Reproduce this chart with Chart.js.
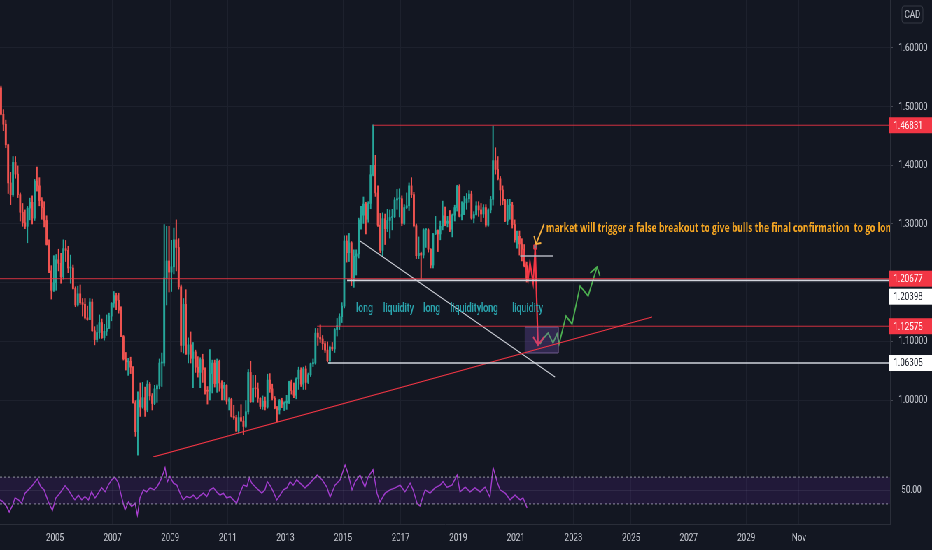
<!DOCTYPE html>
<html>
<head>
<meta charset="utf-8">
<script src="https://cdn.jsdelivr.net/npm/chart.js@4.4.1/dist/chart.umd.min.js"></script>
<style>
html,body{margin:0;padding:0;background:#131722;overflow:hidden;width:932px;height:550px}
#wrap{position:absolute;left:0;top:0;width:1332px;height:550px;transform:scaleX(0.6997);transform-origin:0 0}
#main{position:absolute;left:0;top:0}
#rsi{position:absolute;left:0;top:457px}
</style>
</head>
<body>
<div id="wrap">
<canvas id="main" width="1332" height="457"></canvas>
<canvas id="rsi" width="1332" height="93"></canvas>
</div>
<script>
// USDCAD monthly candles, Feb 2003 .. May 2021
const firstYear = 2003
const firstMonth = 2

const open = [
1.532,1.487,1.470,1.435,1.370,1.350,1.405,1.385,1.350,1.320,1.302,
1.296,1.327,1.337,1.310,1.373,1.365,1.340,1.328,1.306,1.265,1.220,1.187,
1.200,1.239,1.233,1.210,1.258,1.255,1.225,1.225,1.190,1.162,1.181,1.166,
1.163,1.140,1.137,1.167,1.118,1.103,1.115,1.132,1.106,1.117,1.122,1.143,
1.165,1.178,1.170,1.153,1.108,1.070,1.065,1.066,1.056,0.995,0.946,1.000,
0.988,1.004,0.983,1.027,1.007,0.994,1.019,1.024,1.063,1.063,1.208,1.237,
1.218,1.227,1.273,1.260,1.193,1.093,1.163,1.078,1.094,1.071,1.082,1.056,
1.047,1.069,1.052,1.016,1.015,1.045,1.063,1.028,1.066,1.029,1.020,1.025,
0.998,1.001,0.972,0.970,0.947,0.970,0.964,0.955,0.980,1.047,0.997,1.020,
1.019,1.003,0.989,0.998,0.988,1.034,1.019,1.003,0.986,0.983,0.999,0.993,
0.995,0.998,1.031,1.016,1.008,1.036,1.051,1.027,1.053,1.030,1.043,1.062,
1.063,1.114,1.107,1.104,1.096,1.085,1.067,1.090,1.087,1.120,1.127,1.142,
1.160,1.271,1.251,1.268,1.207,1.245,1.249,1.307,1.315,1.334,1.308,1.335,
1.384,1.400,1.353,1.298,1.255,1.309,1.292,1.306,1.311,1.312,1.341,1.343,
1.343,1.301,1.328,1.331,1.365,1.350,1.297,1.246,1.250,1.247,1.290,1.290,
1.257,1.230,1.283,1.289,1.283,1.296,1.314,1.301,1.305,1.291,1.315,1.328,
1.364,1.313,1.316,1.336,1.343,1.351,1.310,1.316,1.331,1.324,1.317,1.328,
1.298,1.324,1.342,1.408,1.393,1.377,1.358,1.340,1.305,1.332,1.332,1.299,
1.273,1.279,1.266,1.257,1.229
]
const high = [
1.535,1.495,1.477,1.436,1.388,1.415,1.415,1.399,1.353,1.335,1.324,
1.330,1.344,1.348,1.376,1.397,1.379,1.345,1.338,1.314,1.273,1.229,1.246,
1.248,1.257,1.250,1.273,1.272,1.262,1.247,1.230,1.193,1.194,1.196,1.173,
1.173,1.160,1.173,1.172,1.125,1.128,1.145,1.138,1.129,1.145,1.148,1.166,
1.185,1.182,1.182,1.159,1.110,1.081,1.071,1.073,1.057,0.999,1.014,1.029,
1.030,1.022,1.033,1.030,1.011,1.025,1.026,1.070,1.080,1.299,1.296,1.296,
1.272,1.293,1.307,1.275,1.196,1.173,1.188,1.106,1.116,1.098,1.085,1.074,
1.072,1.078,1.055,1.023,1.086,1.068,1.068,1.070,1.068,1.033,1.030,1.026,
1.004,1.003,0.991,0.974,0.980,0.992,0.972,0.999,1.052,1.066,1.042,1.042,
1.029,1.004,1.007,1.005,1.044,1.045,1.027,1.006,0.989,1.001,1.003,0.997,
1.008,1.032,1.034,1.029,1.038,1.056,1.055,1.056,1.058,1.046,1.063,1.070,
1.122,1.122,1.128,1.110,1.100,1.099,1.092,1.098,1.122,1.139,1.147,1.166,
1.280,1.280,1.284,1.270,1.256,1.256,1.310,1.330,1.346,1.337,1.338,1.400,
1.469,1.417,1.365,1.318,1.319,1.317,1.325,1.324,1.325,1.345,1.359,1.360,
1.348,1.333,1.353,1.370,1.379,1.354,1.300,1.278,1.252,1.292,1.292,1.292,
1.258,1.284,1.313,1.290,1.305,1.339,1.329,1.313,1.323,1.317,1.332,1.366,
1.367,1.338,1.347,1.352,1.357,1.356,1.321,1.338,1.338,1.335,1.333,1.333,
1.326,1.347,1.467,1.430,1.415,1.381,1.365,1.342,1.342,1.342,1.337,1.307,
1.288,1.288,1.275,1.265,1.235
]
const low = [
1.486,1.459,1.430,1.352,1.333,1.347,1.378,1.345,1.305,1.296,1.292,
1.268,1.307,1.300,1.306,1.356,1.331,1.308,1.295,1.264,1.217,1.172,1.185,
1.187,1.220,1.199,1.206,1.236,1.217,1.199,1.189,1.159,1.160,1.163,1.143,
1.138,1.136,1.137,1.117,1.094,1.099,1.105,1.105,1.102,1.110,1.122,1.135,
1.158,1.154,1.148,1.108,1.068,1.051,1.042,1.045,0.995,0.938,0.906,0.972,
0.986,0.972,0.980,1.000,0.983,0.992,0.996,1.019,1.023,1.058,1.162,1.184,
1.185,1.215,1.220,1.189,1.082,1.080,1.078,1.063,1.063,1.021,1.047,1.039,
1.021,1.030,1.010,0.993,1.000,1.012,1.022,1.013,1.015,1.000,1.000,0.993,
0.983,0.971,0.967,0.946,0.944,0.964,0.941,0.953,0.976,0.996,0.996,1.005,
0.996,0.985,0.984,0.983,0.986,1.013,1.000,0.985,0.963,0.976,0.987,0.982,
0.984,0.994,1.010,1.004,1.002,1.018,1.023,1.018,1.018,1.028,1.040,1.057,
1.061,1.093,1.098,1.086,1.081,1.065,1.062,1.084,1.081,1.109,1.120,1.132,
1.157,1.235,1.236,1.195,1.192,1.213,1.242,1.291,1.301,1.283,1.303,1.326,
1.382,1.347,1.296,1.251,1.246,1.265,1.287,1.276,1.290,1.311,1.325,1.312,
1.297,1.299,1.326,1.323,1.345,1.295,1.241,1.241,1.206,1.242,1.260,1.252,
1.225,1.225,1.282,1.253,1.273,1.290,1.297,1.295,1.287,1.278,1.305,1.322,
1.312,1.307,1.316,1.325,1.337,1.308,1.302,1.315,1.313,1.304,1.311,1.295,
1.296,1.319,1.332,1.385,1.375,1.332,1.333,1.304,1.299,1.308,1.293,1.269,
1.259,1.247,1.237,1.227,1.201
]
const close = [
1.487,1.470,1.435,1.370,1.350,1.405,1.385,1.350,1.320,1.302,1.296,
1.327,1.337,1.310,1.373,1.365,1.340,1.328,1.306,1.265,1.220,1.187,1.200,
1.239,1.233,1.210,1.258,1.255,1.225,1.225,1.190,1.162,1.181,1.166,1.163,
1.140,1.137,1.167,1.118,1.103,1.115,1.132,1.106,1.117,1.122,1.143,1.165,
1.178,1.170,1.153,1.108,1.070,1.065,1.066,1.056,0.995,0.946,1.000,0.988,
1.004,0.983,1.027,1.007,0.994,1.019,1.024,1.063,1.063,1.208,1.237,1.218,
1.227,1.273,1.260,1.193,1.093,1.163,1.078,1.094,1.071,1.082,1.056,1.047,
1.069,1.052,1.016,1.015,1.045,1.063,1.028,1.066,1.029,1.020,1.025,0.998,
1.001,0.972,0.970,0.947,0.970,0.964,0.955,0.980,1.047,0.997,1.020,1.019,
1.003,0.989,0.998,0.988,1.034,1.019,1.003,0.986,0.983,0.999,0.993,0.995,
0.998,1.031,1.016,1.008,1.036,1.051,1.027,1.053,1.030,1.043,1.062,1.063,
1.114,1.107,1.104,1.096,1.085,1.067,1.090,1.087,1.120,1.127,1.142,1.160,
1.271,1.251,1.268,1.207,1.245,1.249,1.307,1.315,1.334,1.308,1.335,1.384,
1.400,1.353,1.298,1.255,1.309,1.292,1.306,1.311,1.312,1.341,1.343,1.343,
1.301,1.328,1.331,1.365,1.350,1.297,1.246,1.250,1.247,1.290,1.290,1.257,
1.230,1.283,1.289,1.283,1.296,1.314,1.301,1.305,1.291,1.315,1.328,1.364,
1.313,1.316,1.336,1.343,1.351,1.310,1.316,1.331,1.324,1.317,1.328,1.298,
1.324,1.342,1.408,1.393,1.377,1.358,1.340,1.305,1.332,1.332,1.299,1.273,
1.279,1.266,1.257,1.229,1.207
]

// weekly RSI
const rsiTime = [
2003.09,2003.20,2003.32,2003.41,2003.53,2003.61,2003.73,2003.84,2003.96,2004.07,2004.19,2004.31,2004.39,2004.50,2004.62,2004.77,2004.91,
2005.03,2005.17,2005.35,2005.46,2005.58,2005.69,2005.81,2005.93,2006.04,2006.16,2006.27,2006.39,2006.50,2006.62,2006.74,2006.85,2006.97,
2007.08,2007.20,2007.32,2007.43,2007.55,2007.66,2007.78,2007.86,2007.95,2008.07,2008.18,2008.30,2008.44,2008.55,2008.67,2008.76,2008.82,2008.90,2008.99,
2009.11,2009.23,2009.34,2009.45,2009.57,2009.69,2009.80,2009.92,2010.03,2010.15,2010.27,2010.38,2010.50,2010.61,2010.73,2010.84,2010.96,
2011.08,2011.19,2011.31,2011.42,2011.54,2011.66,2011.75,2011.83,2011.94,2012.06,2012.18,2012.29,2012.37,2012.49,2012.58,2012.70,2012.81,2012.93,
2013.05,2013.16,2013.27,2013.39,2013.51,2013.68,2013.85,2014.10,2014.27,2014.44,2014.55,2014.72,2014.90,
2015.07,2015.17,2015.31,2015.42,2015.59,2015.76,2015.87,2016.04,2016.18,2016.28,2016.46,2016.63,2016.81,2016.98,
2017.15,2017.33,2017.43,2017.57,2017.67,2017.85,2018.02,2018.19,2018.37,2018.47,2018.61,2018.78,2018.96,
2019.06,2019.24,2019.41,2019.58,2019.76,2019.93,2020.10,2020.21,2020.35,2020.45,2020.63,2020.80,2020.97,2021.15,2021.25,2021.39
]
const rsiValue = [
36,33,26,18,28,39,36,31,46,51,56,63,67,56,51,33,20,
39,46,57,51,43,36,43,36,41,36,48,39,46,54,48,58,66,
70,61,39,21,33,26,31,13,39,51,48,54,51,56,66,76,84,63,71,
61,58,46,36,41,39,43,37,42,46,41,51,54,48,43,46,39,
41,36,31,46,58,56,69,61,56,51,46,51,63,56,48,36,43,51,
54,63,58,66,61,54,61,73,66,55,40,58,66,
88,76,51,63,73,55,70,81,46,33,46,51,54,58,
48,61,51,31,27,51,46,54,58,63,55,58,73,
48,55,48,54,48,55,40,84,63,51,46,36,43,36,39,24
]
const rsiLevels = [70, 50, 30]

// axes
const xMin = 2003.09
const xMax = 2033.99
const yMin = 0.90285
const yMax = 1.68178
const priceTicks = [1.0, 1.1, 1.2, 1.3, 1.4, 1.5, 1.6]
const tickYears = [2005, 2007, 2009, 2011, 2013, 2015, 2017, 2019, 2021, 2023, 2025, 2027, 2029, 2030.83]
const tickLabels = ['2005', '2007', '2009', '2011', '2013', '2015', '2017', '2019', '2021', '2023', '2025', '2027', '2029', 'Nov']

// horizontal levels drawn on the chart
const levelPrice = [1.46831, 1.20677, 1.20398, 1.12575, 1.06305]
const levelStart = [2016.04, 2003.09, 2015.14, 2014.10, 2014.48]
const levelKind = ['red', 'red', 'white', 'red', 'white']

const RED = '#f23645'
const WHITE = '#d1d4dc'
const UP = '#26a69a'
const DOWN = '#ef5350'
const LABEL = '#c3c6ce'

const candleTime = open.map((_, i) => firstYear + (firstMonth - 1 + i + 0.5) / 12)
const candleColor = open.map((o, i) => close[i] >= o ? UP : DOWN)

function line(points, color, width, extra){
return Object.assign({
type: 'line',
data: points.map(p => ({x: p[0], y: p[1]})),
borderColor: color,
borderWidth: width,
pointRadius: 0,
fill: false,
tension: 0,
order: 1
}, extra || {})
}

const drawings = []
levelPrice.forEach((p, i) => {
drawings.push(line([[levelStart[i], p], [xMax, p]], levelKind[i] === 'red' ? 'rgba(242,54,69,0.85)' : WHITE, levelKind[i] === 'red' ? 1 : 1.6))
})
drawings.push(
line([[2008.40, 0.9028], [2025.73, 1.1415]], RED, 1.2),
line([[2015.59, 1.2710], [2022.36, 1.0392]], WHITE, 1.2),
line([[2021.15, 1.2454], [2022.29, 1.2454]], '#b2b5be', 1.5),
line([[2021.32, 1.1244], [2022.47, 1.1244], [2022.47, 1.0801], [2021.32, 1.0801], [2021.32, 1.1244]],
'rgba(150,120,180,0.7)', 1, {fill: 'shape', backgroundColor: 'rgba(126,87,194,0.28)'}),
line([[2021.25, 1.2574], [2021.42, 1.2028], [2021.49, 1.2352], [2021.60, 1.1994], [2021.67, 1.2591]], RED, 2),
line([[2021.67, 1.2591], [2021.77, 1.0937]], RED, 2.2),
line([[2021.60, 1.1074], [2021.77, 1.0937], [2021.98, 1.1074]], RED, 2),
line([[2021.84, 1.0955], [2021.94, 1.1040], [2022.12, 1.1142], [2022.29, 1.0972], [2022.43, 1.1125], [2022.50, 1.0954],
[2022.74, 1.1432], [2022.95, 1.1295], [2023.23, 1.1943], [2023.51, 1.1773], [2023.82, 1.2267]], '#4caf50', 1.8),
line([[2023.58, 1.2165], [2023.82, 1.2267], [2023.92, 1.2114]], '#4caf50', 1.8),
line([[2021.98, 1.3000], [2021.70, 1.2659]], '#f5b041', 1.8),
line([[2021.63, 1.2795], [2021.70, 1.2659], [2021.88, 1.2676]], '#f5b041', 1.8),
line([[2021.67, 1.2608]], RED, 1, {pointRadius: 3, pointStyle: 'rect', pointBackgroundColor: '#787b86', pointBorderColor: RED, showLine: false})
)

const notes = [
{x: 2022.05, y: 1.2915, text: 'market will trigger a false breakout to give bulls the final confirmation  to go long', color: '#f5a623', font: 'bold 12.3px "Open Sans"'},
{x: 2015.45, y: 1.1551, text: 'long', color: '#2aa3ac', font: '500 12.5px Roboto'},
{x: 2016.39, y: 1.1551, text: 'liquidity', color: '#2aa3ac', font: '500 12.5px Roboto'},
{x: 2017.78, y: 1.1551, text: 'long', color: '#2aa3ac', font: '500 12.5px Roboto'},
{x: 2018.72, y: 1.1551, text: 'liquiditylong', color: '#2aa3ac', font: '500 12.5px Roboto'},
{x: 2020.87, y: 1.1551, text: 'liquidity', color: '#2aa3ac', font: '500 12.5px Roboto'}
]

Chart.defaults.font.family = 'Roboto'
Chart.defaults.color = LABEL

const GRID = '#1d212d'
const EDGE = '#2a2e39'

// no label overhang padding: the plot fills the pane edge to edge
function noPad(s){
s.paddingTop = 0
s.paddingBottom = 0
s.paddingLeft = 0
s.paddingRight = 0
}

const overlay = {
id: 'overlay',
afterDatasetsDraw(chart){
const {ctx, chartArea: a, scales} = chart
ctx.save()
ctx.beginPath()
ctx.rect(a.left, a.top, a.right - a.left, a.bottom - a.top)
ctx.clip()
ctx.textBaseline = 'middle'
ctx.textAlign = 'left'
notes.forEach(n => {
ctx.font = n.font
ctx.fillStyle = n.color
ctx.fillText(n.text, scales.x.getPixelForValue(n.x), scales.y.getPixelForValue(n.y))
})
ctx.restore()
},
afterDraw(chart){
const {ctx, chartArea: a, scales} = chart
const W = chart.width
ctx.save()
// currency box
ctx.strokeStyle = '#363a45'
ctx.fillStyle = '#131722'
ctx.beginPath()
ctx.roundRect(1289, 6, 30, 17, 3)
ctx.fill()
ctx.stroke()
ctx.fillStyle = LABEL
ctx.font = '11.5px Roboto'
ctx.textAlign = 'center'
ctx.textBaseline = 'middle'
ctx.fillText('CAD', 1304, 15)
// price tags
const tags = levelPrice.map((p, i) => ({p, kind: levelKind[i], y: scales.y.getPixelForValue(p)}))
tags.sort((u, v) => u.y - v.y)
for (let i = 1; i < tags.length; i++){
if (tags[i].y - tags[i - 1].y < 18) tags[i].y = tags[i - 1].y + 18
}
ctx.textAlign = 'left'
tags.forEach(t => {
ctx.fillStyle = t.kind === 'red' ? RED : '#ffffff'
ctx.fillRect(a.right - 1, t.y - 8, W - a.right + 1, 16)
ctx.fillStyle = t.kind === 'red' ? '#ffffff' : '#131722'
ctx.fillText(t.p.toFixed(5), a.right + 5, t.y + 0.5)
})
ctx.restore()
}
}

new Chart(document.getElementById('main'), {
type: 'bar',
data: {
datasets: [
{
type: 'bar',
data: candleTime.map((t, i) => ({x: t, y: [low[i], high[i]]})),
backgroundColor: candleColor,
barThickness: 1.3,
grouped: false,
order: 10
},
{
type: 'bar',
data: candleTime.map((t, i) => ({x: t, y: [open[i], close[i]]})),
backgroundColor: candleColor,
barThickness: 2.2,
minBarLength: 1,
grouped: false,
order: 9
},
...drawings
]
},
options: {
responsive: false,
animation: false,
events: [],
layout: {padding: 0, autoPadding: false},
plugins: {legend: {display: false}, tooltip: {enabled: false}},
scales: {
x: {
type: 'linear',
min: xMin,
max: xMax,
offset: false,
afterBuildTicks: s => { s.ticks = tickYears.map(v => ({value: v})) },
afterFit: s => { s.height = 0; noPad(s) },
ticks: {display: false},
grid: {color: GRID, drawTicks: false, offset: false},
border: {color: EDGE}
},
y: {
position: 'right',
min: yMin,
max: yMax,
afterBuildTicks: s => { s.ticks = priceTicks.map(v => ({value: v})) },
afterFit: s => { s.width = 60; noPad(s) },
ticks: {
padding: 8,
font: {size: 11.5},
color: LABEL,
callback: v => v.toFixed(5)
},
grid: {color: GRID, tickLength: 4, tickColor: '#434651'},
border: {color: EDGE}
}
}
},
plugins: [overlay]
})

new Chart(document.getElementById('rsi'), {
type: 'line',
data: {
datasets: [
{
data: [{x: xMin, y: rsiLevels[0]}, {x: xMax, y: rsiLevels[0]}],
borderColor: '#9598a1',
borderDash: [3, 3],
borderWidth: 1,
pointRadius: 0,
fill: '+1',
backgroundColor: 'rgba(120,40,200,0.14)'
},
{
data: [{x: xMin, y: rsiLevels[2]}, {x: xMax, y: rsiLevels[2]}],
borderColor: '#9598a1',
borderDash: [3, 3],
borderWidth: 1,
pointRadius: 0,
fill: false
},
{
data: [{x: xMin, y: rsiLevels[1]}, {x: xMax, y: rsiLevels[1]}],
borderColor: 'rgba(149,152,161,0.15)',
borderWidth: 1,
pointRadius: 0,
fill: false
},
{
data: rsiTime.map((t, i) => ({x: t, y: rsiValue[i]})),
borderColor: '#a93fd0',
borderWidth: 1.4,
pointRadius: 0,
tension: 0,
fill: false
}
]
},
options: {
responsive: false,
animation: false,
events: [],
layout: {padding: 0, autoPadding: false},
plugins: {legend: {display: false}, tooltip: {enabled: false}},
scales: {
x: {
type: 'linear',
min: xMin,
max: xMax,
afterBuildTicks: s => { s.ticks = tickYears.map(v => ({value: v})) },
afterFit: s => { s.height = 26; noPad(s) },
ticks: {
autoSkip: false,
maxRotation: 0,
padding: 7,
font: {size: 11.5},
color: LABEL,
callback: (v, i) => tickLabels[i]
},
grid: {color: GRID, drawTicks: false},
border: {color: EDGE}
},
y: {
position: 'right',
min: 0,
max: 100,
afterBuildTicks: s => { s.ticks = [{value: rsiLevels[1]}] },
afterFit: s => { s.width = 60; noPad(s) },
ticks: {
padding: 8,
font: {size: 11.5},
color: LABEL,
callback: v => v.toFixed(2)
},
grid: {display: false},
border: {color: EDGE}
}
}
}
})
</script>
</body>
</html>
